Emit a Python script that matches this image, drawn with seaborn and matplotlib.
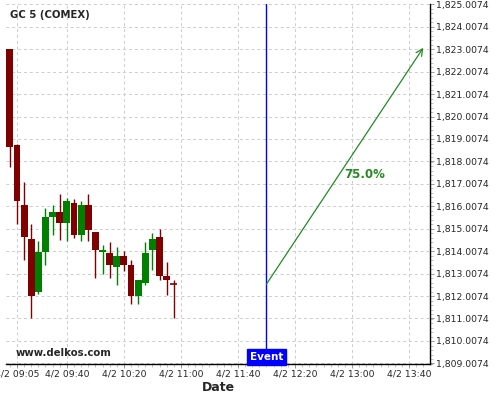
import matplotlib
matplotlib.use("Agg")
import matplotlib.pyplot as plt
from matplotlib.ticker import FuncFormatter, MultipleLocator, FixedLocator
import seaborn as sns
import pandas as pd

sns.set_style("white")
plt.rcParams['font.family'] = ['DejaVu Sans']

# ---- data ----
start_minute = 9 * 60  # 09:00, 5-minute candles
opens  = [1823.02, 1818.74, 1816.06, 1814.53, 1812.20, 1813.95, 1815.53, 1815.74,
          1815.26, 1816.15, 1814.72, 1816.06, 1814.84, 1813.95, 1813.94, 1813.32,
          1813.80, 1813.40, 1812.00, 1812.59, 1814.05, 1814.62, 1812.90, 1812.53]
closes = [1818.66, 1816.25, 1814.63, 1812.00, 1813.95, 1815.52, 1815.74, 1815.26,
          1816.24, 1814.72, 1816.06, 1814.95, 1814.05, 1814.05, 1813.41, 1813.80,
          1813.41, 1812.00, 1812.72, 1813.94, 1814.53, 1812.90, 1812.74, 1812.53]
highs  = [1823.02, 1818.80, 1817.11, 1815.23, 1814.44, 1815.91, 1816.06, 1816.56,
          1816.36, 1816.33, 1816.24, 1816.56, 1814.84, 1814.29, 1814.42, 1814.20,
          1814.00, 1813.62, 1812.72, 1814.42, 1814.83, 1815.01, 1813.53, 1812.72]
lows   = [1817.77, 1815.24, 1813.61, 1811.01, 1812.08, 1813.38, 1814.71, 1814.51,
          1814.44, 1814.60, 1814.44, 1814.44, 1812.80, 1812.98, 1812.80, 1812.48,
          1813.11, 1811.67, 1811.67, 1812.48, 1813.19, 1812.72, 1812.06, 1811.01]

xtick_labels = ["4/2 09:05", "4/2 09:40", "4/2 10:20", "4/2 11:00",
                "4/2 11:40", "4/2 12:20", "4/2 13:00", "4/2 13:40"]
xtick_minutes = [545, 580, 620, 660, 700, 740, 780, 820]
ytick_values = [1809.0074 + i for i in range(17)]

event_minute = 720          # 12:00
arrow_start = (720, 1812.54)
arrow_end = (830, 1823.07)
pct_label = "75.0%"
pct_pos = (789, 1817.44)

df = pd.DataFrame({
    "t": [start_minute + 5 * i for i in range(len(opens))],
    "open": opens, "close": closes, "high": highs, "low": lows,
})
df["up"] = df["close"] > df["open"]

RED = "#800000"
GREEN = "#008000"

fig = plt.figure(figsize=(5, 4), dpi=100)
ax = fig.add_axes([0.012, 0.09, 0.848, 0.9])

# wicks
for _, r in df.iterrows():
    c = GREEN if r["up"] else RED
    ax.vlines(r["t"], r["low"], r["high"], color=c, lw=1.0, zorder=2)
# bodies
for _, r in df.iterrows():
    c = GREEN if r["up"] else RED
    lo = min(r["open"], r["close"])
    h = abs(r["close"] - r["open"])
    if h < 0.03:
        ax.hlines(r["open"], r["t"] - 2.4, r["t"] + 2.4, color=c, lw=1.2, zorder=3)
    else:
        ax.bar(r["t"], h, bottom=lo, width=4.8, color=c, edgecolor=c, lw=0, zorder=3)

ax.set_xlim(537.3, 834.7)
ax.set_ylim(1808.98, 1825.02)

# axes styling
ax.yaxis.tick_right()
ax.yaxis.set_major_locator(FixedLocator(ytick_values))
ax.yaxis.set_minor_locator(MultipleLocator(0.2))
ax.yaxis.set_major_formatter(FuncFormatter(lambda v, p: f"{v:,.4f}"))
ax.set_xticks(xtick_minutes)
ax.set_xticklabels(xtick_labels)
ax.xaxis.set_minor_locator(MultipleLocator(5))
ax.tick_params(axis="both", which="major", labelsize=6.7, length=3, width=0.6,
               color="#888888", pad=1)
ax.tick_params(axis="both", which="minor", length=1.8, width=0.5, color="#aaaaaa")
ax.tick_params(axis="y", which="both", right=True, left=False)
ax.tick_params(axis="x", which="both", bottom=True)
for s in ["left", "top"]:
    ax.spines[s].set_visible(False)
for s in ["right", "bottom"]:
    ax.spines[s].set_color("black")
    ax.spines[s].set_linewidth(1.0)
ax.grid(True, which="major", color="#cccccc", linestyle=(0, (3, 3)), lw=0.7)
ax.set_axisbelow(True)

ax.set_xlabel("Date", fontsize=9, fontweight="bold", labelpad=2)

# event line and label
ax.axvline(event_minute, color="#0000ff", lw=1.0, zorder=4)
ax.text(event_minute, 1809.30, "Event", ha="center", va="center", color="white",
        fontsize=7.5, fontweight="bold", zorder=5,
        bbox=dict(boxstyle="square,pad=0.3", fc="#0000ff", ec="#0000ff"))

# projection arrow
ax.annotate("", xy=arrow_end, xytext=arrow_start,
            arrowprops=dict(arrowstyle="->", color="#228b22", lw=0.9,
                            mutation_scale=12, shrinkA=0, shrinkB=0), zorder=4)
ax.text(pct_pos[0], pct_pos[1], pct_label, color="#228b22", fontsize=8.5,
        fontweight="bold", ha="center", va="center")

fig.text(0.02, 0.962, "GC 5 (COMEX)", fontsize=7.3, fontweight="bold",
         ha="left", va="center")
ax.text(0.022, 0.03, "www.delkos.com", transform=ax.transAxes, fontsize=7.3,
        fontweight="bold", ha="left", va="center")

fig.savefig("out.png", dpi=100)
